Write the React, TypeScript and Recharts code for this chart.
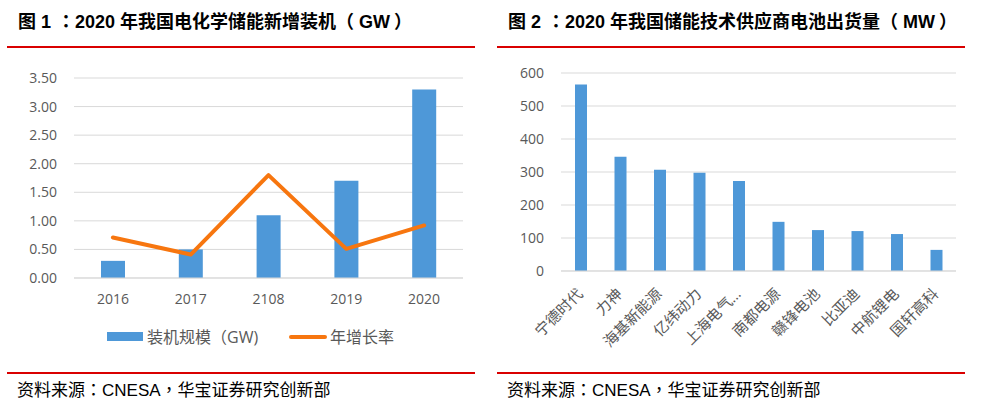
import React from "react";
import {
  Bar,
  BarChart,
  CartesianGrid,
  ComposedChart,
  Line,
  XAxis,
  YAxis
} from "recharts";

// 图 1 data
const years = ["2016", "2017", "2108", "2019", "2020"];
const capacityGW = [0.3, 0.5, 1.1, 1.7, 3.3];
const growthRate = [0.71, 0.41, 1.8, 0.51, 0.92];
const leftTicks = [0, 0.5, 1, 1.5, 2, 2.5, 3, 3.5];

// 图 2 data
const suppliers = [
  "宁德时代",
  "力神",
  "海基新能源",
  "亿纬动力",
  "上海电气…",
  "南都电源",
  "赣锋电池",
  "比亚迪",
  "中航锂电",
  "国轩高科"
];
const shipmentsMW = [565, 346, 307, 298, 273, 149, 124, 121, 112, 64];
const rightTicks = [0, 100, 200, 300, 400, 500, 600];

const BLUE = "#4E98D8";
const ORANGE = "#F7760F";
const RED = "#D90000";
const GRID = "#D9D9D9";
const LABEL = "#595959";

const leftData = years.map((year, i) => ({
  year,
  capacity: capacityGW[i],
  growth: growthRate[i]
}));

const rightData = suppliers.map((name, i) => ({
  name,
  value: shipmentsMW[i]
}));

type TickProps = {
  x?: number;
  y?: number;
  payload?: { value: string };
};

function RotatedTick({ x = 0, y = 0, payload }: TickProps) {
  const ax = x + 3;
  const ay = y + 24;
  return (
    <text
      x={ax}
      y={ay}
      fill={LABEL}
      fontSize={15}
      textAnchor="end"
      transform={`rotate(-45 ${ax} ${ay})`}
    >
      {payload?.value}
    </text>
  );
}

// full-width punctuation: TC font keeps colon / comma centred like the source document
function Punct({ ch, ml = 0, mr = 0, tc = true }: { ch: string; ml?: number; mr?: number; tc?: boolean }) {
  return (
    <span
      style={{
        marginLeft: ml,
        marginRight: mr,
        fontFamily: tc ? '"Noto Sans CJK TC", sans-serif' : undefined
      }}
    >
      {ch}
    </span>
  );
}

const titleStyle: React.CSSProperties = {
  position: "absolute",
  top: 9,
  fontSize: 18,
  lineHeight: "22px",
  fontWeight: 700,
  color: "#000",
  whiteSpace: "nowrap",
  fontFamily: '"Liberation Sans", "Noto Sans CJK SC", sans-serif'
};

const sourceStyle: React.CSSProperties = {
  position: "absolute",
  top: 379,
  fontSize: 17,
  lineHeight: "20px",
  color: "#000",
  whiteSpace: "nowrap",
  fontFamily: '"Liberation Sans", "Noto Sans CJK SC", sans-serif'
};

function RedLine({ left, top, width }: { left: number; top: number; width: number }) {
  return (
    <div style={{ position: "absolute", left, top, width, height: 2, background: RED }} />
  );
}

function Source({ left }: { left: number }) {
  return (
    <div style={{ ...sourceStyle, left }}>
      资料来源<Punct ch="：" />CNESA<Punct ch="，" />华宝证券研究创新部
    </div>
  );
}

export default function App() {
  return (
    <div
      style={{
        position: "absolute",
        left: 0,
        top: 0,
        width: 986,
        height: 406,
        background: "#fff",
        fontFamily: '"Open Sans", "Noto Sans CJK SC", sans-serif'
      }}
    >
      {/* left panel */}
      <div style={{ ...titleStyle, left: 18 }}>
        图 1<Punct ch="：" ml={6} />2020 年我国电化学储能新增装机
        <Punct ch="（" mr={5} tc={false} />GW<Punct ch="）" ml={4} tc={false} />
      </div>
      <RedLine left={7} top={46} width={468} />

      <div style={{ position: "absolute", left: 0, top: 60 }}>
        <ComposedChart
          data={leftData}
          height={260}
          margin={{ top: 18, right: 17, bottom: 0, left: 0 }}
          width={480}
        >
          <CartesianGrid stroke={GRID} vertical={false} />
          <XAxis
            axisLine={{ stroke: GRID }}
            dataKey="year"
            height={42}
            tick={{ fill: LABEL, fontSize: 14 }}
            tickLine={false}
            tickMargin={16}
            tickSize={0}
          />
          <YAxis
            axisLine={false}
            domain={[0, 3.5]}
            tick={{ fill: LABEL, fontSize: 14 }}
            tickFormatter={(v: number) => v.toFixed(2)}
            tickLine={false}
            tickMargin={17}
            tickSize={0}
            ticks={leftTicks}
            width={74}
          />
          <Bar barSize={24} dataKey="capacity" fill={BLUE} isAnimationActive={false} />
          <Line
            dataKey="growth"
            dot={false}
            isAnimationActive={false}
            stroke={ORANGE}
            strokeLinecap="round"
            strokeLinejoin="round"
            strokeWidth={4}
            type="linear"
          />
        </ComposedChart>
      </div>

      {/* left legend */}
      <div style={{ position: "absolute", left: 107, top: 332, width: 36, height: 9, background: BLUE }} />
      <div
        style={{
          position: "absolute",
          left: 147,
          top: 326,
          fontSize: 16,
          lineHeight: "22px",
          color: LABEL,
          whiteSpace: "nowrap"
        }}
      >
        装机规模（GW)
      </div>
      <div
        style={{
          position: "absolute",
          left: 289,
          top: 335,
          width: 38,
          height: 4,
          borderRadius: 2,
          background: ORANGE
        }}
      />
      <div
        style={{
          position: "absolute",
          left: 330,
          top: 326,
          fontSize: 16,
          lineHeight: "22px",
          color: LABEL,
          whiteSpace: "nowrap"
        }}
      >
        年增长率
      </div>

      <RedLine left={7} top={372} width={468} />
      <Source left={17} />

      {/* right panel */}
      <div style={{ ...titleStyle, left: 508 }}>
        图 2<Punct ch="：" ml={6} />2020 年我国储能技术供应商电池出货量
        <Punct ch="（" mr={5} tc={false} />MW<Punct ch="）" ml={4} tc={false} />
      </div>
      <RedLine left={497} top={46} width={468} />

      <div style={{ position: "absolute", left: 493, top: 55 }}>
        <BarChart
          data={rightData}
          height={310}
          margin={{ top: 18, right: 17, bottom: 0, left: 0 }}
          width={480}
        >
          <CartesianGrid stroke={GRID} vertical={false} />
          <XAxis
            axisLine={{ stroke: GRID }}
            dataKey="name"
            height={94}
            interval={0}
            tick={<RotatedTick />}
            tickLine={false}
            tickMargin={0}
            tickSize={0}
          />
          <YAxis
            axisLine={false}
            domain={[0, 600]}
            tick={{ fill: LABEL, fontSize: 14 }}
            tickLine={false}
            tickMargin={17}
            tickSize={0}
            ticks={rightTicks}
            width={68}
          />
          <Bar barSize={12} dataKey="value" fill={BLUE} isAnimationActive={false} />
        </BarChart>
      </div>

      <RedLine left={497} top={372} width={468} />
      <Source left={507} />
    </div>
  );
}
